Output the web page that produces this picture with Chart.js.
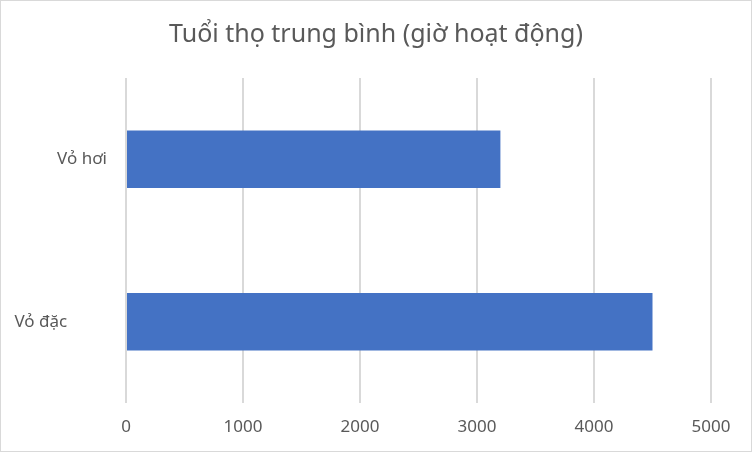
<!DOCTYPE html>
<html>
<head>
<meta charset="utf-8">
<script src="https://cdn.jsdelivr.net/npm/chart.js@4"></script>
<style>
  html, body { margin: 0; padding: 0; background: #fff; }
  #wrap { width: 752px; height: 452px; box-sizing: border-box; border: 1px solid #d9d9d9; }
  canvas { display: block; }
</style>
</head>
<body>
<div id="wrap"><canvas id="lifeChart" width="750" height="450"></canvas></div>
<script>
// Chart data
const titleText = 'Tuổi thọ trung bình (giờ hoạt động)';
const categories = ['Vỏ hơi', 'Vỏ đặc         '];
const lifeHours = [3200, 4500];
const axisMin = 0;
const axisMax = 5000;
const axisStep = 1000;

const textColor = '#595959';
const fontFamily = "'Noto Sans', 'DejaVu Sans', sans-serif";

const ctx = document.getElementById('lifeChart').getContext('2d');
const lifeChart = new Chart(ctx, {
  type: 'bar',
  data: {
    labels: categories,
    datasets: [{
      label: titleText,
      data: lifeHours,
      backgroundColor: '#4472C4',
      borderWidth: 0,
      categoryPercentage: 1,
      barPercentage: 0.355
    }]
  },
  options: {
    indexAxis: 'y',
    responsive: false,
    animation: false,
    devicePixelRatio: 1,
    layout: {
      padding: 0
    },
    plugins: {
      legend: { display: false },
      tooltip: { enabled: false },
      title: {
        display: true,
        text: titleText,
        color: textColor,
        font: { family: fontFamily, size: 25, weight: 'normal', lineHeight: 1.2 },
        padding: { top: 19, bottom: 28 }
      }
    },
    scales: {
      x: {
        min: axisMin,
        max: axisMax,
        ticks: {
          stepSize: axisStep,
          color: textColor,
          padding: 14,
          font: { family: fontFamily, size: 17 },
          // plain numbers, no thousands separator
          callback: function (value) {
            return String(value);
          }
        },
        grid: {
          color: '#d9d9d9',
          lineWidth: 2,
          drawTicks: false
        },
        border: { display: false },
        afterFit: function (scale) {
          scale.height = 48;
        }
      },
      y: {
        ticks: {
          color: textColor,
          padding: 19,
          font: { family: fontFamily, size: 17 }
        },
        grid: { display: false, drawTicks: false },
        border: { display: false },
        afterFit: function (scale) {
          scale.width = 125;
        }
      },
      // empty right-hand box so the plot ends before the edge while the title stays centred
      spacer: {
        type: 'linear',
        position: 'right',
        display: true,
        ticks: { display: false },
        grid: { display: false, drawTicks: false },
        border: { display: false },
        afterFit: function (scale) {
          scale.width = 40;
        }
      }
    }
  }
});
</script>
</body>
</html>
